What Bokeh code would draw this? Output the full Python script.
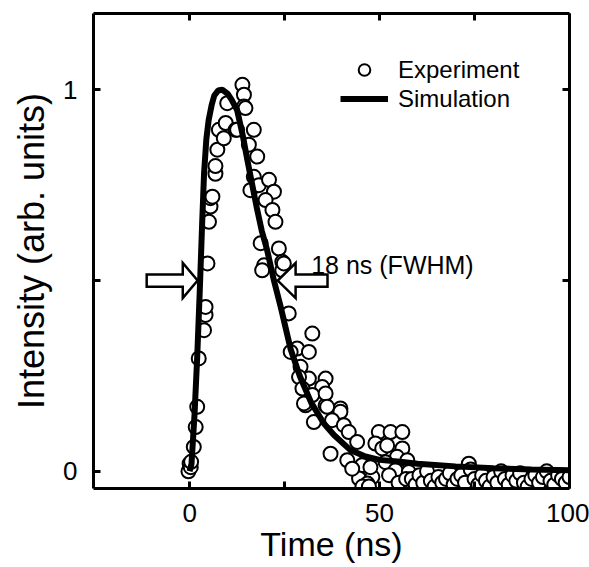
from bokeh.plotting import figure
from bokeh.models import (Range1d, FixedTicker, LinearAxis, Legend, LegendItem)
from bokeh.core.properties import value
from bokeh.embed import file_html
from bokeh.resources import INLINE

# ---------------- data ----------------
exp_t = [-0.3, 0.0, 0.3, 0.4, 1.1, 1.6, 2.0, 2.4, 3.8, 4.2, 4.2, 4.7, 5.1, 5.5, 5.5,
         6.0, 6.8, 6.8, 7.3, 7.7, 9.0, 9.5, 9.9, 12.1, 12.5, 13.9, 14.3, 14.3, 14.7,
         15.6, 16.9, 17.8, 16.9, 16.0, 18.2, 20.9, 22.2, 20.0, 21.8, 22.6, 18.7,
         23.5, 24.4, 24.4, 19.6, 19.1, 24.8, 26.1, 32.3, 28.3, 31.4, 26.6, 29.2,
         31.4, 35.8, 28.8, 34.9, 29.7, 30.5, 35.8, 39.7, 32.3, 35.8, 30.1, 36.2,
         39.7, 32.7, 37.5, 40.6, 41.9, 44.1, 37.1, 43.2, 45.4, 44.6, 48.1, 46.8,
         49.8, 52.9, 56.0, 48.9, 50.7, 52.0, 56.0, 54.6, 51.6, 54.2, 57.3, 57.7,
         47.6, 41.5, 42.8, 45.5, 47.2, 52.5, 55.0, 57.0,
         58.5, 59.5, 60.5, 61.5, 62.5, 63.5, 64.5, 65.5, 66.5, 67.5, 68.5, 69.5,
         70.5, 71.5, 72.5, 73.5, 74.0, 75.0, 76.0, 77.0, 78.0, 79.0, 80.0, 81.0,
         82.0, 83.0, 84.0, 85.0, 86.0, 87.0, 88.0, 89.0, 90.0, 91.0, 92.0, 93.0,
         94.0, 95.0, 96.0, 97.0, 98.0, 99.0, 100.0]
exp_y = [0.0, 0.02, 0.011, 0.025, 0.064, 0.116, 0.169, 0.296, 0.37, 0.41, 0.431,
         0.545, 0.654, 0.694, 0.716, 0.72, 0.78, 0.80, 0.843, 0.895, 0.873, 0.913,
         0.965, 0.895, 0.895, 1.013, 0.987, 0.956, 0.952, 0.856, 0.895, 0.825,
         0.772, 0.737, 0.75, 0.764, 0.733, 0.711, 0.685, 0.654, 0.598, 0.584,
         0.549, 0.527, 0.54, 0.527, 0.545, 0.414, 0.361, 0.322, 0.313, 0.313,
         0.274, 0.243, 0.243, 0.247, 0.221, 0.217, 0.173, 0.173, 0.165, 0.2,
         0.204, 0.178, 0.169, 0.156, 0.129, 0.134, 0.121, 0.103, 0.077, 0.046,
         0.033, 0.016, -0.019, -0.015, -0.032, 0.103, 0.103, 0.103, 0.073, 0.06,
         0.068, 0.06, 0.038, 0.024, 0.003, 0.029, -0.002, 0.011, 0.029, 0.007,
         -0.04, -0.04, -0.01, -0.03, -0.02,
         -0.02, -0.035, -0.01, -0.03, 0.0, -0.025, -0.04, -0.015, -0.03, -0.02,
         -0.005, -0.035, -0.02, -0.01, -0.03, 0.02, 0.005, -0.02, -0.035, -0.01,
         -0.025, -0.04, -0.015, -0.03, 0.0, -0.02, -0.035, -0.01, -0.025, -0.005,
         -0.03, -0.04, -0.02, -0.01, -0.03, -0.015, 0.0, -0.025, -0.035, -0.01,
         -0.02, -0.03, -0.015]

sim_t = [0.0, 0.5, 1.3, 2.0, 2.7, 3.3, 3.8, 4.4, 5.0, 5.8, 6.5, 7.5, 8.6, 10.0,
         11.0, 12.5, 14.0, 15.2, 16.5, 17.8, 19.0, 20.4, 22.2, 24.0, 26.6, 29.0,
         32.0, 35.3, 38.0, 42.4, 46.0, 50.0, 55.5, 60.0, 70.0, 80.0, 90.0, 100.0]
sim_y = [0.0, 0.02, 0.15, 0.3, 0.48, 0.65, 0.78, 0.87, 0.92, 0.96, 0.985, 0.998,
         1.0, 0.99, 0.975, 0.947, 0.88, 0.816, 0.75, 0.685, 0.63, 0.58, 0.5, 0.43,
         0.32, 0.25, 0.18, 0.126, 0.095, 0.055, 0.04, 0.03, 0.025, 0.02, 0.013,
         0.008, 0.005, 0.003]

x_ticks = [0, 25, 50, 75, 100]
x_tick_labels = {0: "0", 25: "", 50: "50", 75: "", 100: "100"}
y_ticks = [0, 0.5, 1]
y_tick_labels = {0: "0", 0.5: "", 1: "1"}

# FWHM arrows: (tail, head base, tip) in ns, at half maximum
arrow_left = (-11.3, -1.8, 2.1)
arrow_right = (36.3, 27.9, 23.2)
half_max = 0.5
body_half = 0.016
head_half = 0.046

FONT = "Liberation Sans"

p = figure(width=589, height=567, output_backend="svg", toolbar_location=None,
           x_range=Range1d(-25.3, 100), y_range=Range1d(-0.045, 1.2),
           min_border_left=93, min_border_right=20, min_border_top=13,
           min_border_bottom=79)
p.grid.visible = False
p.outline_line_color = None
p.background_fill_color = "white"
p.border_fill_color = "white"

def style_axis(ax, ticks, overrides, show_labels=True):
    ax.ticker = FixedTicker(ticks=ticks)
    ax.major_label_overrides = overrides
    ax.minor_tick_line_color = None
    ax.major_tick_in = 7
    ax.major_tick_out = 0
    ax.major_tick_line_width = 3
    ax.major_tick_line_color = "black"
    ax.axis_line_width = 3
    ax.axis_line_color = "black"
    ax.major_label_text_font = FONT
    ax.major_label_text_color = "black"
    if show_labels:
        ax.major_label_text_font_size = "26px"
    else:
        ax.major_label_text_font_size = "0px"
        ax.major_label_standoff = 0

style_axis(p.xaxis[0], x_ticks, x_tick_labels)
style_axis(p.yaxis[0], y_ticks, y_tick_labels)
p.xaxis[0].major_label_standoff = 15
p.yaxis[0].major_label_standoff = 16
p.xaxis[0].axis_label = "Time (ns)"
p.yaxis[0].axis_label = "Intensity (arb. units)"
for ax in (p.xaxis[0], p.yaxis[0]):
    ax.axis_label_text_font = FONT
    ax.axis_label_text_font_style = "normal"
    ax.axis_label_text_color = "black"
p.xaxis[0].axis_label_text_font_size = "34px"
p.yaxis[0].axis_label_text_font_size = "36px"
p.xaxis[0].axis_label_standoff = 0
p.yaxis[0].axis_label_standoff = 8

top_ax = LinearAxis()
style_axis(top_ax, x_ticks, {t: "" for t in x_ticks}, show_labels=False)
p.add_layout(top_ax, "above")
right_ax = LinearAxis()
style_axis(right_ax, y_ticks, {t: "" for t in y_ticks}, show_labels=False)
p.add_layout(right_ax, "right")

# experimental points
r_exp = p.scatter(exp_t, exp_y, marker="circle", size=14, fill_color="white",
                  line_color="black", line_width=2)
# simulation
r_sim = p.line(sim_t, sim_y, line_width=6, line_color="black")

# FWHM arrows
def arrow_poly(tail, base, tip, yc):
    xs = [tail, base, base, tip, base, base, tail]
    ys = [yc - body_half, yc - body_half, yc - head_half, yc,
          yc + head_half, yc + body_half, yc + body_half]
    return xs, ys

axs, ays = [], []
for a in (arrow_left, arrow_right):
    xs, ys = arrow_poly(*a, half_max)
    axs.append(xs)
    ays.append(ys)
p.patches(axs, ays, fill_color="white", line_color="black", line_width=2.5,
          line_join="miter")

p.text(x=[32.0], y=[0.541], text=["18 ns (FWHM)"], text_font=value(FONT),
       text_font_size="25px", text_color="black", text_align="left",
       text_baseline="alphabetic")

legend = Legend(items=[LegendItem(label="Experiment", renderers=[r_exp]),
                       LegendItem(label="Simulation", renderers=[r_sim])],
                location=(247, 375), padding=0, spacing=0, margin=0,
                glyph_width=48, glyph_height=29, label_height=29,
                label_standoff=10, label_text_font=FONT,
                label_text_font_size="24px", label_text_color="black",
                border_line_color=None, background_fill_alpha=0)
p.add_layout(legend, "center")

open("out.html", "w").write(file_html(p, INLINE))
